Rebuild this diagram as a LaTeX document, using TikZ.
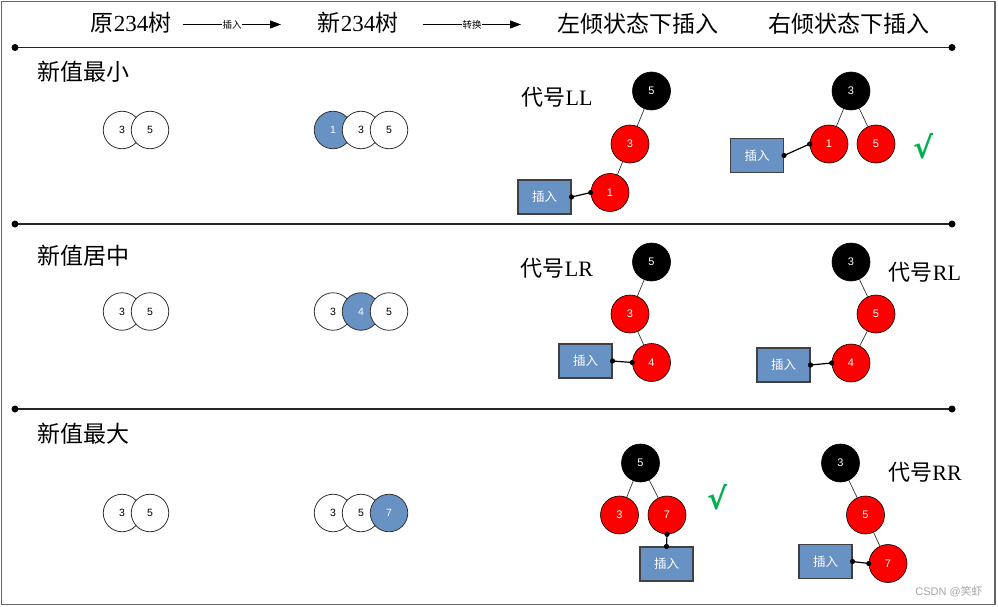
\documentclass[tikz,border=0pt]{standalone}
\usepackage{fontspec}
\setmainfont{Liberation Serif}
\newfontfamily\zhfont{Noto Sans CJK SC}
\newfontfamily\numfont{Liberation Sans}
\newfontfamily\chkfont{DejaVu Sans}
\usetikzlibrary{arrows.meta}
\definecolor{nodeblue}{RGB}{104,145,196}
\definecolor{chkgreen}{RGB}{0,176,80}
\newcommand{\zh}[1]{{\zhfont #1}}
\begin{document}
\begin{tikzpicture}[x=1pt,y=-1pt,
  title/.style={font=\fontsize{23}{23}\selectfont, inner sep=0pt},
  rowlabel/.style={font=\fontsize{23}{23}\selectfont, inner sep=0pt},
  codelabel/.style={font=\fontsize{22}{22}\selectfont, inner sep=0pt},
  keynode/.style={circle, draw=black!80, line width=0.8pt, minimum size=37.5pt, inner sep=0pt, fill=white, font=\numfont\fontsize{10.5}{10.5}\selectfont},
  keyblue/.style={keynode, fill=nodeblue, text=white},
  rbblack/.style={circle, draw=black, line width=0.6pt, minimum size=38pt, inner sep=0pt, fill=black, text=white, font=\numfont\fontsize{11}{11}\selectfont},
  rbred/.style={rbblack, fill=red},
  insbox/.style={rectangle, draw=black!75, line width=1.1pt, fill=nodeblue, minimum width=53pt, minimum height=34pt, inner sep=0pt, text=white, font=\zhfont\fontsize{12.5}{12.5}\selectfont},
  treeedge/.style={draw=black!80, line width=0.7pt},
  conn/.style={draw=black, line width=1.2pt},
  divider/.style={draw=black!85, line width=1.5pt},
  hdrarrow/.style={draw=black, line width=0.8pt, -{Triangle[length=11pt,width=8pt]}},
  arrlabel/.style={fill=white, inner sep=0.6pt, font=\zhfont\fontsize{9.5}{9.5}\selectfont},
  checkmark/.style={text=chkgreen, inner sep=0pt, font=\chkfont\bfseries\fontsize{30}{30}\selectfont},
  watermark/.style={text=black!35, inner sep=0pt, font=\numfont\fontsize{11}{11}\selectfont}
]
\useasboundingbox (0,0) rectangle (998,607);
\draw[black!60, line width=1.5pt] (1.5,1.5) rectangle (995,604.5);

% headers
\node[title] (h1) at (131,23) {\zh{原}234\zh{树}};
\node[title] (h2) at (358,23) {\zh{新}234\zh{树}};
\node[title] (h3) at (638,24) {\zh{左倾状态下插入}};
\node[title] (h4) at (849,24) {\zh{右倾状态下插入}};
\coordinate (a1s) at (183,24.5);
\coordinate (a1e) at (281,24.5);
\coordinate (a2s) at (423,24.5);
\coordinate (a2e) at (521,24.5);
\draw[hdrarrow] (a1s) -- node[arrlabel] (a1l) {插入} (a1e);
\draw[hdrarrow] (a2s) -- node[arrlabel] (a2l) {转换} (a2e);

% dividers
\foreach \yy/\nm in {47.5/d1, 224/d2, 409/d3}{
  \coordinate (\nm a) at (15,\yy);
  \coordinate (\nm b) at (952,\yy);
  \draw[divider] (\nm a) -- (\nm b);
  \fill (\nm a) circle (3.5pt);
  \fill (\nm b) circle (3.5pt);
}

% row labels
\node[rowlabel] (r1) at (83,72) {\zh{新值最小}};
\node[rowlabel] (r2) at (83,256) {\zh{新值居中}};
\node[rowlabel] (r3) at (83,434) {\zh{新值最大}};

% row 1 : 2-3-4 nodes
\node[keynode] (o1a) at (122,130) {3};
\node[keynode] (o1b) at (150,130) {5};
\node[keyblue] (n1a) at (333,130) {1};
\node[keynode] (n1b) at (361,130) {3};
\node[keynode] (n1c) at (389,130) {5};
% row 2
\node[keynode] (o2a) at (122,311.5) {3};
\node[keynode] (o2b) at (150,311.5) {5};
\node[keynode] (n2a) at (333,311.5) {3};
\node[keyblue] (n2b) at (361,311.5) {4};
\node[keynode] (n2c) at (389,311.5) {5};
% row 3
\node[keynode] (o3a) at (122,513) {3};
\node[keynode] (o3b) at (150,513) {5};
\node[keynode] (n3a) at (333,513) {3};
\node[keynode] (n3b) at (361,513) {5};
\node[keyblue] (n3c) at (389,513) {7};

% ---- row 1, left-leaning (LL)
\node[codelabel] (c1) at (557,97) {\zh{代号}LL};
\node[rbblack] (t1a) at (651.5,91) {5};
\node[rbred] (t1b) at (630,144) {3};
\node[rbred] (t1c) at (610,192.5) {1};
\node[insbox] (b1) at (544.5,197) {插入};
\draw[treeedge] (t1a) -- (t1b);
\draw[treeedge] (t1b) -- (t1c);
\draw[conn] (b1.east) -- (t1c.west);
\fill (b1.east) circle (2.6pt);
\fill (t1c.west) circle (2.6pt);

% ---- row 1, right-leaning
\node[rbblack] (u1a) at (851,91) {3};
\node[rbred] (u1b) at (829,144) {1};
\node[rbred] (u1c) at (876,144) {5};
\node[insbox] (e1) at (757,155.5) {插入};
\draw[treeedge] (u1a) -- (u1b);
\draw[treeedge] (u1a) -- (u1c);
\draw[conn] (e1.east) -- (u1b.west);
\fill (e1.east) circle (2.6pt);
\fill (u1b.west) circle (2.6pt);
\node[checkmark] (k1) at (923,146) {√};

% ---- row 2, LR
\node[codelabel] (c2) at (557,268) {\zh{代号}LR};
\node[rbblack] (t2a) at (651.5,262) {5};
\node[rbred] (t2b) at (630,314) {3};
\node[rbred] (t2c) at (651.5,362.5) {4};
\node[insbox] (b2) at (585.5,361) {插入};
\draw[treeedge] (t2a) -- (t2b);
\draw[treeedge] (t2b) -- (t2c);
\draw[conn] (b2.east) -- (t2c.west);
\fill (b2.east) circle (2.6pt);
\fill (t2c.west) circle (2.6pt);

% ---- row 2, RL
\node[codelabel] (c3) at (925,272) {\zh{代号}RL};
\node[rbblack] (u2a) at (851,262) {3};
\node[rbred] (u2b) at (876,314) {5};
\node[rbred] (u2c) at (851,363) {4};
\node[insbox] (e2) at (783.5,365) {插入};
\draw[treeedge] (u2a) -- (u2b);
\draw[treeedge] (u2b) -- (u2c);
\draw[conn] (e2.east) -- (u2c.west);
\fill (e2.east) circle (2.6pt);
\fill (u2c.west) circle (2.6pt);

% ---- row 3, balanced
\node[rbblack] (t3a) at (640.5,463) {5};
\node[rbred] (t3b) at (619.5,515) {3};
\node[rbred] (t3c) at (667,515) {7};
\node[insbox] (b3) at (666.5,564) {插入};
\draw[treeedge] (t3a) -- (t3b);
\draw[treeedge] (t3a) -- (t3c);
\draw[conn] (t3c.south) -- (b3.north);
\fill (t3c.south) circle (2.6pt);
\fill (b3.north) circle (2.6pt);
\node[checkmark] (k2) at (717,497) {√};

% ---- row 3, RR
\node[codelabel] (c4) at (925,472.5) {\zh{代号}RR};
\node[rbblack] (u3a) at (840.5,463) {3};
\node[rbred] (u3b) at (865.5,515) {5};
\node[rbred] (u3c) at (888,563.5) {7};
\node[insbox] (e3) at (825.5,561.5) {插入};
\draw[treeedge] (u3a) -- (u3b);
\draw[treeedge] (u3b) -- (u3c);
\draw[conn] (e3.east) -- (u3c.west);
\fill (e3.east) circle (2.6pt);
\fill (u3c.west) circle (2.6pt);

\node[watermark] (wm) at (949,592) {CSDN @\zh{笑虾}};
\end{tikzpicture}
\end{document}
